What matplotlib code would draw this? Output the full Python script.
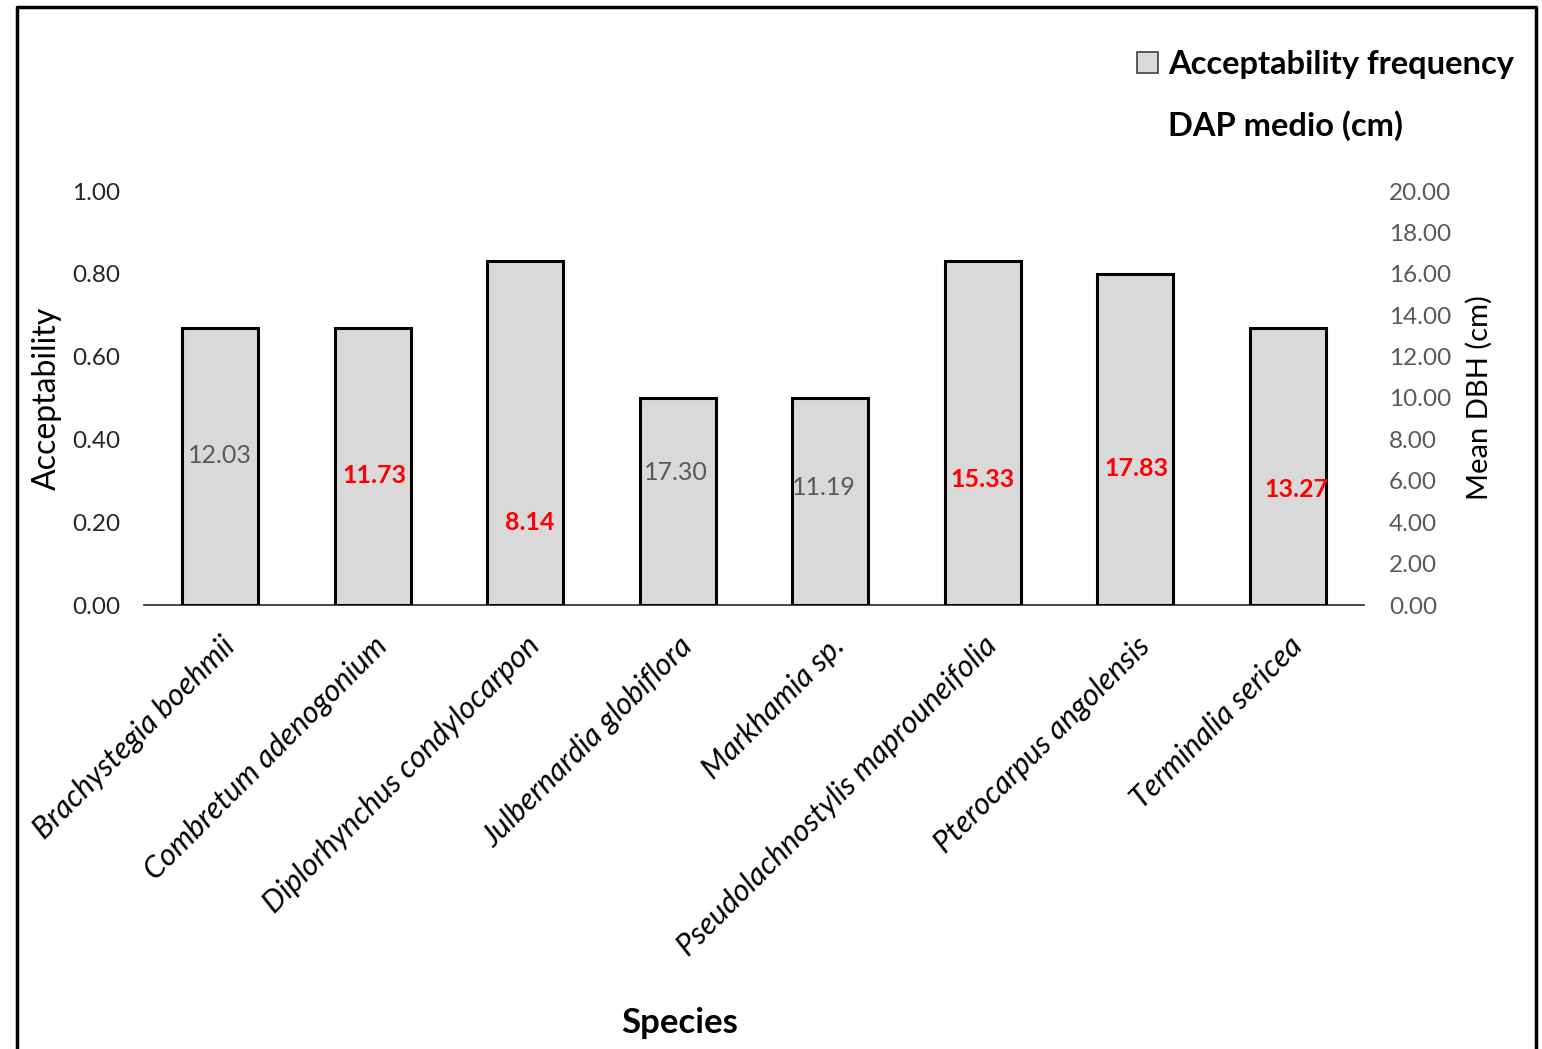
import matplotlib
matplotlib.use("Agg")
import matplotlib.pyplot as plt
from matplotlib.patches import Patch
from matplotlib.lines import Line2D

plt.rcParams['font.family'] = ['Lato', 'DejaVu Sans']

species = ["Brachystegia boehmii", "Combretum adenogonium", "Diplorhynchus condylocarpon",
           "Julbernardia globiflora", "Markhamia sp.", "Pseudolachnostylis maprouneifolia",
           "Pterocarpus angolensis", "Terminalia sericea"]
acceptability = [0.67, 0.67, 0.83, 0.50, 0.50, 0.83, 0.80, 0.67]
dap_medio = [12.03, 11.73, 8.14, 17.30, 11.19, 15.33, 17.83, 13.27]
dap_highlight = [False, True, True, False, False, True, True, True]
left_ticks = [0.0, 0.2, 0.4, 0.6, 0.8, 1.0]
right_ticks = [0, 2, 4, 6, 8, 10, 12, 14, 16, 18, 20]

# layout of the value labels (left-axis units / category offsets)
label_y = [0.362, 0.312, 0.200, 0.321, 0.283, 0.304, 0.329, 0.280]
label_dx = [0.0, 0.01, 0.03, -0.01, -0.04, 0.0, 0.01, 0.06]

W, H = 1542, 1049
fig = plt.figure(figsize=(W / 100, H / 100), dpi=100)
ax = fig.add_axes([144 / W, 1 - 605 / H, (1364 - 144) / W, (605 - 191) / H])

x = list(range(len(species)))
ax.bar(x, acceptability, width=0.5, color="#D9D9D9", edgecolor="black", linewidth=2.2, zorder=3)
ax.set_xlim(-0.5, len(species) - 0.5)
ax.set_ylim(0, 1.0)
ax.set_yticks(left_ticks)
ax.set_yticklabels([f"{v:.2f}" for v in left_ticks], fontsize=17.5, color="#262626")
ax.tick_params(axis='y', length=0, pad=17)
ax.set_xticks(x)
ax.set_xticklabels(species, rotation=45, ha='right', rotation_mode='anchor',
                   fontsize=22, style='italic', color='black')
ax.tick_params(axis='x', length=0, pad=19)
for lbl in ax.get_xticklabels():
    lbl.set_x(lbl.get_position()[0])
for s in ['top', 'right', 'left']:
    ax.spines[s].set_visible(False)
ax.spines['bottom'].set_color('#262626')
ax.spines['bottom'].set_linewidth(1.2)
ax.set_ylabel("Acceptability", fontsize=23, color='black')
ax.yaxis.set_label_coords((62 - 144) / 1220, 0.5)

ax2 = ax.twinx()
ax2.set_ylim(0, 20)
ax2.set_yticks(right_ticks)
ax2.set_yticklabels([f"{v:.2f}" for v in right_ticks], fontsize=17.5, color="#595959")
ax2.tick_params(axis='y', length=0, pad=18)
for s in ['top', 'right', 'left', 'bottom']:
    ax2.spines[s].set_visible(False)
ax2.set_ylabel("Mean DBH (cm)", fontsize=21, color='black')
ax2.yaxis.set_label_coords((1466 - 144) / 1220, 0.5)

for i, v in enumerate(dap_medio):
    if dap_highlight[i]:
        ax.text(i + label_dx[i], label_y[i], f"{v:.2f}", ha='center', va='center',
                fontsize=18, fontweight='bold', color='#FF0000', zorder=5)
    else:
        ax.text(i + label_dx[i], label_y[i], f"{v:.2f}", ha='center', va='center',
                fontsize=18, color='#595959', zorder=5)

handles = [Patch(facecolor="#D9D9D9", edgecolor="#404040", linewidth=1.2),
           Line2D([], [], color='none')]
fig.legend(handles, ["Acceptability frequency", "DAP medio (cm)"],
           loc='upper right', bbox_to_anchor=(1527 / W, 1 - 37 / H), frameon=False,
           prop={'size': 23.5, 'weight': 'bold'}, handlelength=0.65, handleheight=0.65,
           handletextpad=0.3, labelspacing=0.95, borderaxespad=0, alignment='left')

fig.text(680 / W, 1 - 1023 / H, "Species", ha='center', va='center', fontsize=25, fontweight='bold')

# outer frame (left, top, right)
fx0, fx1, fy0 = 16.5 / W, 1535.5 / W, 1 - 6.5 / H
fig.add_artist(Line2D([fx0, fx0, fx1, fx1], [0, fy0, fy0, 0], color='black', linewidth=2.5,
                      transform=fig.transFigure))

fig.savefig("out.png", dpi=100)
